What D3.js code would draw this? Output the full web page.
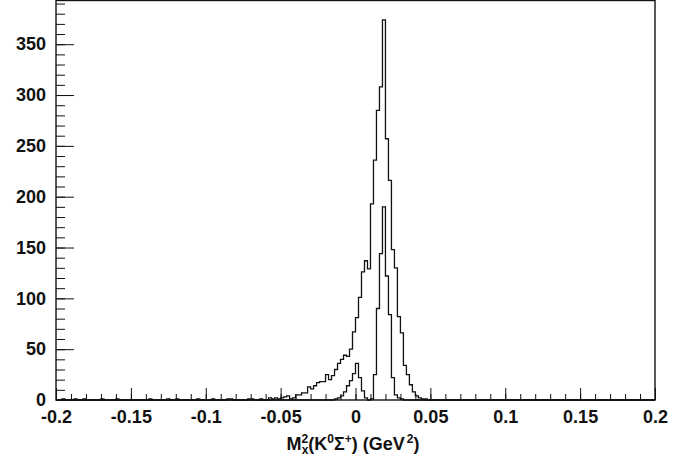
<!DOCTYPE html>
<html>
<head>
<meta charset="utf-8">
<script src="https://cdn.jsdelivr.net/npm/d3@7"></script>
<style>
  body { margin: 0; background: #fff; }
  text { font-family: "Liberation Sans", Arial, sans-serif; font-weight: bold; fill: #111; }
</style>
</head>
<body>
<script>
var w = 691;
var h = 461;

// histogram layout: 200 bins from -0.2 to 0.2
var xMin = -0.2;
var xMax = 0.2;
var binWidth = 0.002;

// outer (wide) histogram, non-empty bins: lower edge and count
var outerLow = [
    -0.196, -0.188, -0.182, -0.170, -0.160, -0.138, -0.126, -0.120, -0.106, -0.096,
    -0.086, -0.084, -0.072, -0.070, -0.064, -0.058, -0.056, -0.054, -0.052, -0.050,
    -0.048, -0.046, -0.044, -0.042, -0.040, -0.038, -0.036, -0.034, -0.032, -0.030,
    -0.028, -0.026, -0.024, -0.022, -0.020, -0.018, -0.016, -0.014, -0.012, -0.010,
    -0.008, -0.006, -0.004, -0.002, 0.000, 0.002, 0.004, 0.006, 0.008, 0.010,
    0.012, 0.014, 0.016, 0.018, 0.020, 0.022, 0.024, 0.026, 0.028, 0.030,
    0.032, 0.034, 0.036, 0.038, 0.040, 0.042, 0.044, 0.046
];
var outerCounts = [
    1, 1, 1, 1, 1, 1, 1, 1, 1, 1,
    1, 1, 1, 1, 1, 2, 1, 2, 1, 2,
    3, 4, 1, 2, 5, 5, 7, 7, 13, 11,
    14, 17, 18, 18, 25, 20, 24, 30, 36, 40,
    44, 43, 50, 67, 81, 101, 126, 137, 129, 193,
    236, 285, 308, 374, 257, 216, 148, 130, 82, 66,
    34, 25, 15, 8, 4, 2, 1, 1
];

// inner (narrow) histogram, non-empty bins
var innerLow = [
    -0.014, -0.012, -0.010, -0.008, -0.006, -0.004, -0.002, 0.000, 0.002, 0.004,
    0.006, 0.010, 0.012, 0.014, 0.016, 0.018, 0.020, 0.022, 0.024, 0.026,
    0.028, 0.030
];
var innerCounts = [
    1, 2, 4, 8, 14, 19, 26, 36, 22, 9,
    2, 1, 25, 90, 144, 190, 122, 84, 22, 5,
    2, 1
];

var xTickValues = [-0.2, -0.15, -0.1, -0.05, 0, 0.05, 0.1, 0.15, 0.2];
var yTickValues = [0, 50, 100, 150, 200, 250, 300, 350];
var yMax = 393;

var frame = {left: 56, right: 655, top: 0.5, bottom: 400};

var xScale = d3.scaleLinear()
    .domain([xMin, xMax])
    .range([frame.left, frame.right]);

var yScale = d3.scaleLinear()
    .domain([0, yMax])
    .range([frame.bottom, frame.top]);

var svg = d3.select("body")
    .append("svg")
    .attr("width", w)
    .attr("height", h);

// turn sparse bins into a full step outline
function stepPoints(lows, counts) {
    var nBins = Math.round((xMax - xMin) / binWidth);
    var full = new Array(nBins).fill(0);
    lows.forEach(function(lo, i){
        full[Math.round((lo - xMin) / binWidth)] = counts[i];
    });
    var pts = full.map(function(c, i){
        return [xMin + i * binWidth, c];
    });
    pts.push([xMax, 0]);
    return pts;
}

var line = d3.line()
    .x(function(d){ return xScale(d[0]); })
    .y(function(d){ return yScale(d[1]); })
    .curve(d3.curveStepAfter);

svg.append("path")
    .datum(stepPoints(outerLow, outerCounts))
    .attr("d", line)
    .attr("fill", "none")
    .attr("stroke", "#111")
    .attr("stroke-width", 1.3);

svg.append("path")
    .datum(stepPoints(innerLow, innerCounts))
    .attr("d", line)
    .attr("fill", "none")
    .attr("stroke", "#111")
    .attr("stroke-width", 1.3);

// axes: ticks point into the frame
var fmt = function(d){ return String(+d.toFixed(2)); };

svg.append("g")
    .attr("transform", "translate(0," + frame.bottom + ")")
    .call(d3.axisBottom(xScale).tickValues(d3.range(-0.19, 0.2, 0.01)).tickSize(-6).tickFormat(""))
    .call(function(g){ g.select(".domain").remove(); });

svg.append("g")
    .attr("transform", "translate(0," + frame.bottom + ")")
    .call(d3.axisBottom(xScale).tickValues(xTickValues).tickSize(-12).tickPadding(10).tickFormat(fmt))
    .call(function(g){ g.select(".domain").remove(); })
    .selectAll("text")
    .style("font-size", "18px")
    .attr("fill", "#111");

svg.append("g")
    .attr("transform", "translate(" + frame.left + ",0)")
    .call(d3.axisLeft(yScale).tickValues(d3.range(10, 391, 10)).tickSize(-9).tickFormat(""))
    .call(function(g){ g.select(".domain").remove(); });

svg.append("g")
    .attr("transform", "translate(" + frame.left + ",0)")
    .call(d3.axisLeft(yScale).tickValues(yTickValues).tickSize(-18).tickPadding(10).tickFormat(fmt))
    .call(function(g){ g.select(".domain").remove(); })
    .selectAll("text")
    .style("font-size", "18px")
    .attr("fill", "#111");

svg.selectAll(".tick line").attr("stroke", "#111");

// frame
svg.append("rect")
    .attr("x", frame.left)
    .attr("y", frame.top)
    .attr("width", frame.right - frame.left)
    .attr("height", frame.bottom - frame.top)
    .attr("fill", "none")
    .attr("stroke", "#111")
    .attr("stroke-width", 1.4);

// axis title: M_x^2(K^0 Sigma^+) (GeV^2)
var title = svg.append("text")
    .attr("x", 353)
    .attr("y", 450)
    .attr("text-anchor", "middle")
    .style("font-size", "18px");

title.append("tspan").text("M");
title.append("tspan").text("2").style("font-size", "12px").attr("dy", -7);
title.append("tspan").text("x").style("font-size", "12px").attr("dx", -6.5).attr("dy", 11);
title.append("tspan").text("(K").attr("dy", -4);
title.append("tspan").text("0").style("font-size", "12px").attr("dy", -7);
title.append("tspan").text("\u03A3").attr("dy", 7);
title.append("tspan").text("+").style("font-size", "12px").attr("dy", -7);
title.append("tspan").text(") (GeV").attr("dy", 7);
title.append("tspan").text("2").style("font-size", "12px").attr("dx", 2).attr("dy", -7);
title.append("tspan").text(")").attr("dy", 7);
</script>
</body>
</html>
